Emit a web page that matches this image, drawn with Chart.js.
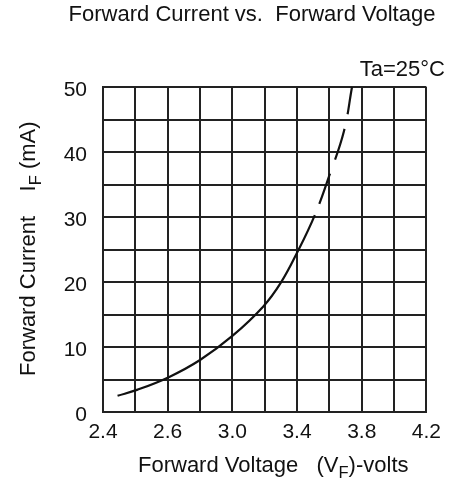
<!DOCTYPE html>
<html>
<head>
<meta charset="utf-8">
<script src="https://cdn.jsdelivr.net/npm/chart.js@4/dist/chart.umd.min.js"></script>
<style>
  html, body { margin: 0; padding: 0; background: #fff; }
  #wrap { width: 449px; height: 482px; }
</style>
</head>
<body>
<div id="wrap"><canvas id="ivChart" width="449" height="482"></canvas></div>
<script>
// curve
const voltage = [2.29, 2.41, 2.61, 2.80, 3.00, 3.19, 3.30, 3.40, 3.51, 3.60, 3.69, 3.74];
const current = [2.5, 3.4, 5.4, 8.0, 11.7, 16.2, 19.9, 24.5, 30.3, 36.4, 43.2, 50.0];
const dashFrom = 8; // dashed above ~30 mA

// printed tick labels (every second grid line)
const xTickLabels = ['2.4', '2.6', '3.0', '3.4', '3.8', '4.2'];
const yTickLabels = ['0', '10', '20', '30', '40', '50'];

const FONT = "'Liberation Sans', Arial, sans-serif";
const INK = '#111';
const GRID = '#222';

Chart.defaults.font.family = FONT;
Chart.defaults.color = INK;

// draws a run of text pieces, some of them as subscripts
function drawRuns(ctx, runs, size) {
    let x = 0;
    runs.forEach(r => {
        const fs = r.sub ? size * 0.75 : size;
        ctx.font = fs + 'px ' + FONT;
        ctx.fillText(r.t, x, r.sub ? size * 0.28 : 0);
        x += ctx.measureText(r.t).width;
    });
}

const textPlugin = {
    id: 'sheetText',
    afterDraw(chart) {
        const ctx = chart.ctx;
        ctx.save();
        ctx.fillStyle = INK;
        ctx.textBaseline = 'alphabetic';

        // title
        ctx.font = '22px ' + FONT;
        ctx.textAlign = 'center';
        ctx.fillText('Forward Current vs.  Forward Voltage', 252, 21);

        // ambient temp note
        ctx.textAlign = 'right';
        ctx.fillText('Ta=25\u00B0C', 445, 76);

        // x axis title
        ctx.textAlign = 'left';
        ctx.save();
        ctx.translate(138, 472);
        drawRuns(ctx, [{ t: 'Forward Voltage   (V' }, { t: 'F', sub: true }, { t: ')-volts' }], 22);
        ctx.restore();

        // y axis title
        ctx.save();
        ctx.translate(35, 376);
        ctx.rotate(-Math.PI / 2);
        drawRuns(ctx, [{ t: 'Forward Current    I' }, { t: 'F', sub: true }, { t: ' (mA)' }], 22);
        ctx.restore();

        ctx.restore();
    }
};

new Chart(document.getElementById('ivChart'), {
    type: 'line',
    data: {
        datasets: [{
            data: voltage.map((v, i) => ({ x: v, y: current[i] })),
            borderColor: INK,
            borderWidth: 2.2,
            pointRadius: 0,
            tension: 0.4,
            fill: false,
            clip: false,
            segment: {
                borderDash: c => c.p0DataIndex >= dashFrom ? [32, 15] : undefined,
                borderDashOffset: c => c.p0DataIndex >= dashFrom ? 35 : 0
            }
        }]
    },
    options: {
        responsive: false,
        animation: false,
        layout: { padding: { top: 87, right: 22, left: 0, bottom: 0 } },
        plugins: {
            legend: { display: false },
            title: { display: false },
            tooltip: { enabled: false }
        },
        scales: {
            x: {
                type: 'linear',
                min: 2.2,
                max: 4.2,
                afterFit: s => { s.height = 70; },
                afterBuildTicks: s => {
                    s.ticks = Array.from({ length: 11 }, (_, i) => ({ value: +(2.2 + i * 0.2).toFixed(1) }));
                },
                grid: { color: GRID, lineWidth: 2, drawTicks: false },
                border: { color: GRID, width: 2 },
                ticks: {
                    padding: 8,
                    maxRotation: 0,
                    autoSkip: false,
                    font: { size: 21 },
                    color: INK,
                    callback: (v, i) => i % 2 === 0 ? xTickLabels[i / 2] : ''
                }
            },
            y: {
                min: 0,
                max: 50,
                afterFit: s => { s.width = 103; },
                grid: { color: GRID, lineWidth: 2, drawTicks: false },
                border: { color: GRID, width: 2 },
                ticks: {
                    stepSize: 5,
                    padding: 16,
                    labelOffset: 3,
                    autoSkip: false,
                    font: { size: 21 },
                    color: INK,
                    callback: (v, i) => i % 2 === 0 ? yTickLabels[i / 2] : ''
                }
            }
        }
    },
    plugins: [textPlugin]
});
</script>
</body>
</html>
